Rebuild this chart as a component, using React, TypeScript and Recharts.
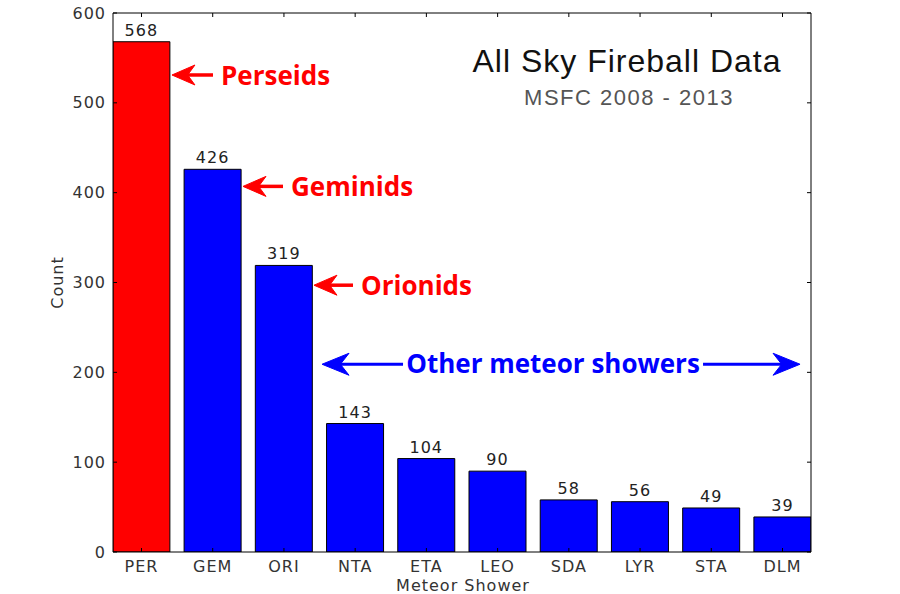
import React from 'react';
import { BarChart, Bar, XAxis, YAxis, Cell, LabelList, ReferenceLine } from 'recharts';

const categories = ['PER', 'GEM', 'ORI', 'NTA', 'ETA', 'LEO', 'SDA', 'LYR', 'STA', 'DLM'];
const counts = [568, 426, 319, 143, 104, 90, 58, 56, 49, 39];
const barColors = ['#ff0000', '#0000ff', '#0000ff', '#0000ff', '#0000ff', '#0000ff', '#0000ff', '#0000ff', '#0000ff', '#0000ff'];
const yTicks = [0, 100, 200, 300, 400, 500, 600];
const xTickPositions = categories.map((_, i) => i + 0.4);

// annotation arrows (data units): tail -> tip
const arrowNotes = [
  { text: 'Perseids', tail: 1.404, tip: 0.828, y: 531, color: '#ff0000' },
  { text: 'Geminids', tail: 2.387, tip: 1.825, y: 407, color: '#ff0000' },
  { text: 'Orionids', tail: 3.37, tip: 2.822, y: 297, color: '#ff0000' },
];
const otherNote = { text: 'Other meteor showers', left: 2.935, right: 9.646, y: 209, color: '#0000ff' };

const data = categories.map((name, i) => ({ name, pos: xTickPositions[i], count: counts[i] }));

const TICK_FONT = { fontFamily: 'DejaVu Sans', fontSize: 16, letterSpacing: 1, fill: '#333' };
const NOTE_FONT = { fontFamily: 'Open Sans', fontSize: 26, fontWeight: 700 };

const arrowHead = (tx: number, ty: number, dir: number, L: number, W: number, color: string) => {
  const bx = tx - dir * L;
  const nx = tx - dir * L * 0.68;
  return <polygon points={`${tx},${ty} ${bx},${ty - W} ${nx},${ty} ${bx},${ty + W}`} fill={color} stroke={color} strokeWidth={1} />;
};

const makeArrowShape = (text: string, color: string) => (p: any) => {
  const { x1, y1, x2 } = p;
  const dir = x2 > x1 ? 1 : -1;
  const L = 23;
  return (
    <g>
      <line x1={x1} y1={y1} x2={x2 - dir * L * 0.6} y2={y1} stroke={color} strokeWidth={3.5} />
      {arrowHead(x2, y1, dir, L, 10, color)}
      <text x={x1 + 8} y={y1 + 10} {...NOTE_FONT} fill={color}>{text}</text>
    </g>
  );
};

const otherShape = (p: any) => {
  const { x1, y1, x2 } = p;
  const color = otherNote.color;
  const tm = (x1 + x2) / 2 - 8;
  const gap = 150;
  const L = 27;
  return (
    <g>
      <line x1={x1 + L * 0.6} y1={y1} x2={tm - gap} y2={y1} stroke={color} strokeWidth={3} />
      <line x1={tm + gap} y1={y1} x2={x2 - L * 0.6} y2={y1} stroke={color} strokeWidth={3} />
      {arrowHead(x1, y1, -1, L, 11, color)}
      {arrowHead(x2, y1, 1, L, 11, color)}
      <text x={tm} y={y1 + 9} textAnchor="middle" {...NOTE_FONT} fill={color}>{otherNote.text}</text>
    </g>
  );
};

const LeftTick = (p: any) => (
  <g>
    <line x1={p.x} x2={p.x + 4} y1={p.y} y2={p.y} stroke="#000" strokeWidth={1} />
    <text x={p.x - 7} y={p.y} dy={5.5} textAnchor="end" {...TICK_FONT}>{p.payload.value}</text>
  </g>
);
const RightTick = (p: any) => (
  <line x1={p.x} x2={p.x - 4} y1={p.y} y2={p.y} stroke="#000" strokeWidth={1} />
);
const BottomTick = (p: any) => (
  <g>
    <line x1={p.x} x2={p.x} y1={p.y} y2={p.y - 4} stroke="#000" strokeWidth={1} />
    <text x={p.x} y={p.y + 20} textAnchor="middle" {...TICK_FONT}>
      {categories[Math.round(p.payload.value - 0.4)]}
    </text>
  </g>
);
const TopTick = (p: any) => (
  <line x1={p.x} x2={p.x} y1={p.y} y2={p.y + 4} stroke="#000" strokeWidth={1} />
);

const X_DOMAIN = [0, 9.8];

export default function App() {
  return (
    <div style={{ position: 'absolute', left: 0, top: 0, width: 900, height: 594, background: '#fff' }}>
      <BarChart width={900} height={594} data={data} margin={{ top: 8, right: 69, bottom: 0, left: 0 }}>
        <XAxis
          xAxisId="b"
          type="number"
          dataKey="pos"
          domain={X_DOMAIN}
          ticks={xTickPositions}
          allowDataOverflow
          height={42}
          tickLine={false}
          tickSize={0}
          tickMargin={0}
          axisLine={{ stroke: '#000', strokeWidth: 1 }}
          tick={BottomTick}
          interval={0}
          label={{
            content: (lp: any) => {
              const vb = lp.viewBox;
              return (
                <text x={vb.x + vb.width / 2 + 1} y={vb.y + 39} textAnchor="middle" {...TICK_FONT}>Meteor Shower</text>
              );
            },
          }}
        />
        <XAxis
          xAxisId="t"
          orientation="top"
          type="number"
          dataKey="pos"
          domain={X_DOMAIN}
          ticks={xTickPositions}
          allowDataOverflow
          height={5}
          tickLine={false}
          tickSize={0}
          tickMargin={0}
          axisLine={{ stroke: '#000', strokeWidth: 1 }}
          tick={TopTick}
          interval={0}
        />
        <YAxis
          yAxisId="l"
          domain={[0, 600]}
          ticks={yTicks}
          width={113}
          tickLine={false}
          tickSize={0}
          tickMargin={0}
          axisLine={{ stroke: '#000', strokeWidth: 1 }}
          tick={LeftTick}
          interval={0}
          allowDataOverflow
          label={{
            content: (lp: any) => {
              const vb = lp.viewBox;
              const cx = vb.x + 63;
              const cy = vb.y + vb.height / 2;
              return (
                <text x={cx} y={cy} transform={`rotate(-90 ${cx} ${cy})`} textAnchor="middle" {...TICK_FONT}>Count</text>
              );
            },
          }}
        />
        <YAxis
          yAxisId="r"
          orientation="right"
          domain={[0, 600]}
          ticks={yTicks}
          width={20}
          tickLine={false}
          tickSize={0}
          tickMargin={0}
          axisLine={{ stroke: '#000', strokeWidth: 1 }}
          tick={RightTick}
          interval={0}
          allowDataOverflow
        />
        <Bar xAxisId="b" yAxisId="l" dataKey="count" barSize={57} stroke="#000" strokeWidth={1} isAnimationActive={false}>
          {data.map((d, i) => (
            <Cell key={d.name} fill={barColors[i]} />
          ))}
          <LabelList dataKey="count" position="top" offset={6} {...TICK_FONT} fill="#222" />
        </Bar>
        {arrowNotes.map((n) => (
          <ReferenceLine
            key={n.text}
            xAxisId="b"
            yAxisId="l"
            segment={[{ x: n.tail, y: n.y }, { x: n.tip, y: n.y }]}
            shape={makeArrowShape(n.text, n.color)}
            ifOverflow="visible"
          />
        ))}
        <ReferenceLine
          xAxisId="b"
          yAxisId="l"
          segment={[{ x: otherNote.left, y: otherNote.y }, { x: otherNote.right, y: otherNote.y }]}
          shape={otherShape}
          ifOverflow="visible"
        />
      </BarChart>
      <svg width={900} height={594} style={{ position: 'absolute', left: 0, top: 0, pointerEvents: 'none' }}>
        <text x={627} y={72} textAnchor="middle" fontFamily="Liberation Sans" fontSize={32} letterSpacing={1} fill="#111">
          All Sky Fireball Data
        </text>
        <text x={629} y={105} textAnchor="middle" fontFamily="Liberation Sans" fontSize={22} letterSpacing={1.5} fill="#555">
          MSFC 2008 - 2013
        </text>
      </svg>
    </div>
  );
}
